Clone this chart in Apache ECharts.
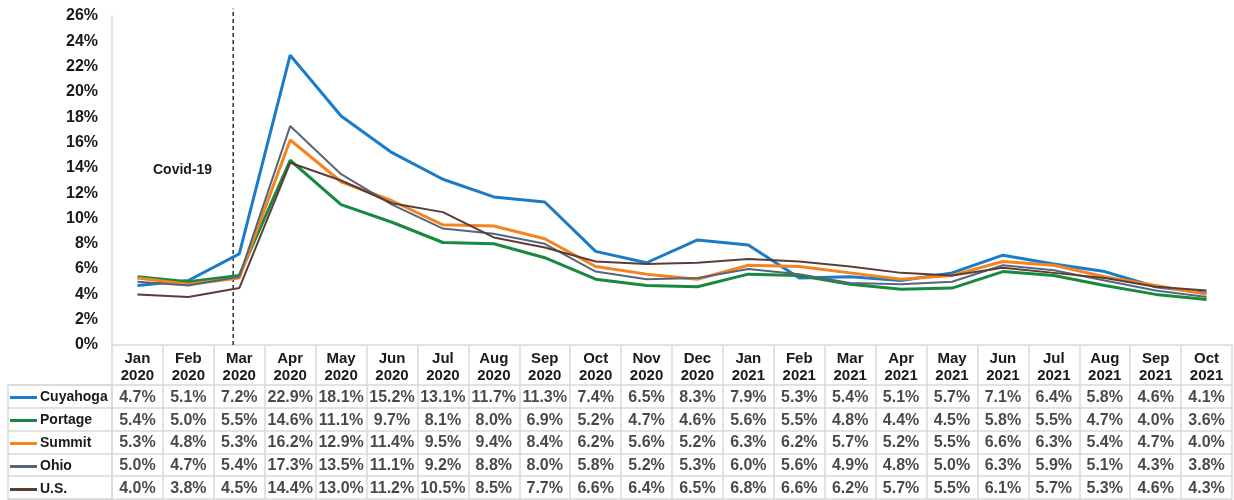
<!DOCTYPE html>
<html>
<head>
<meta charset="utf-8">
<script src="https://cdn.jsdelivr.net/npm/echarts@6/dist/echarts.min.js"></script>
<style>html,body{margin:0;padding:0;background:#fff}#c{width:1234px;height:500px}</style>
</head>
<body>
<div id="c"></div>
<script>
const months = ['Jan\n2020','Feb\n2020','Mar\n2020','Apr\n2020','May\n2020','Jun\n2020','Jul\n2020','Aug\n2020','Sep\n2020','Oct\n2020','Nov\n2020','Dec\n2020','Jan\n2021','Feb\n2021','Mar\n2021','Apr\n2021','May\n2021','Jun\n2021','Jul\n2021','Aug\n2021','Sep\n2021','Oct\n2021'];
const seriesNames = ['Cuyahoga','Portage','Summit','Ohio','U.S.'];
const cuyahoga = [4.7,5.1,7.2,22.9,18.1,15.2,13.1,11.7,11.3,7.4,6.5,8.3,7.9,5.3,5.4,5.1,5.7,7.1,6.4,5.8,4.6,4.1];
const portage  = [5.4,5.0,5.5,14.6,11.1,9.7,8.1,8.0,6.9,5.2,4.7,4.6,5.6,5.5,4.8,4.4,4.5,5.8,5.5,4.7,4.0,3.6];
const summit   = [5.3,4.8,5.3,16.2,12.9,11.4,9.5,9.4,8.4,6.2,5.6,5.2,6.3,6.2,5.7,5.2,5.5,6.6,6.3,5.4,4.7,4.0];
const ohio     = [5.0,4.7,5.4,17.3,13.5,11.1,9.2,8.8,8.0,5.8,5.2,5.3,6.0,5.6,4.9,4.8,5.0,6.3,5.9,5.1,4.3,3.8];
const us       = [4.0,3.8,4.5,14.4,13.0,11.2,10.5,8.5,7.7,6.6,6.4,6.5,6.8,6.6,6.2,5.7,5.5,6.1,5.7,5.3,4.6,4.3];
const annotationText = 'Covid-19';

const allSeries = [cuyahoga, portage, summit, ohio, us];
const colors = ['#1a7bc9','#178a3f','#f5831f','#56667a','#5b3d35'];
const widths = [3,3,3,2,2];
const FONT = 'Liberation Sans';
const border = '#d9d9d9';

const tableData = [];
allSeries.forEach((arr, r) => arr.forEach((v, c) => tableData.push([c, r, v])));

const chart = echarts.init(document.getElementById('c'));
const lineSeries = seriesNames.map((n, i) => ({
  name: n, type: 'line', xAxisIndex: 0, yAxisIndex: 0,
  data: allSeries[i], symbol: 'none', smooth: false,
  lineStyle: { color: colors[i], width: widths[i] },
  itemStyle: { color: colors[i] }
}));

chart.setOption({
  animation: false,
  textStyle: { fontFamily: FONT },
  grid: [
    { left: 112, right: 2, top: 16, bottom: 155 },
    { left: 112, right: 2, top: 345, height: 40 },
    { left: 112, right: 2, top: 385, bottom: 1 },
    { left: 8, width: 104, top: 385, bottom: 1, show: true, borderColor: border, borderWidth: 1.5 }
  ],
  xAxis: [
    { type: 'category', gridIndex: 0, data: months, boundaryGap: true,
      axisLine: { lineStyle: { color: border, width: 1.5 } }, axisTick: { show: false },
      axisLabel: { interval: 0, margin: 5, color: '#1a1a1a', fontSize: 15, fontWeight: 'bold', lineHeight: 17, fontFamily: FONT } },
    { type: 'value', gridIndex: 0, min: -0.5, max: 21.5, show: false },
    { type: 'category', gridIndex: 1, data: months, boundaryGap: true, axisLine: { show: false }, axisTick: { show: false }, axisLabel: { show: false },
      splitLine: { show: true, lineStyle: { color: border, width: 1.5 } } },
    { type: 'category', gridIndex: 2, data: months, boundaryGap: true, axisLine: { show: false }, axisTick: { show: false }, axisLabel: { show: false },
      splitLine: { show: true, lineStyle: { color: border, width: 1.5 } } },
    { type: 'value', gridIndex: 3, show: false }
  ],
  yAxis: [
    { type: 'value', gridIndex: 0, min: 0, max: 26, interval: 2,
      axisLine: { show: true, onZero: false, lineStyle: { color: border, width: 1.5 } }, axisTick: { show: false },
      splitLine: { show: false },
      axisLabel: { margin: 14, formatter: '{value}%', color: '#1a1a1a', fontSize: 16, fontWeight: 'bold', fontFamily: FONT } },
    { type: 'value', gridIndex: 1, show: false },
    { type: 'category', gridIndex: 2, data: seriesNames, inverse: true, boundaryGap: true,
      axisLine: { show: false }, axisTick: { show: false }, axisLabel: { show: false },
      splitLine: { show: true, lineStyle: { color: border, width: 1.5 } } },
    { type: 'category', gridIndex: 3, data: seriesNames, inverse: true, boundaryGap: true,
      axisLine: { show: false }, axisTick: { show: false }, axisLabel: { show: false },
      splitLine: { show: true, lineStyle: { color: border, width: 1.5 } } }
  ],
  legend: {
    data: seriesNames, orient: 'vertical', left: 10, top: 386, height: 130, padding: 0, itemGap: 0,
    icon: 'rect', itemWidth: 27, itemHeight: 3,
    textStyle: { color: '#1a1a1a', fontSize: 14, fontWeight: 'bold', lineHeight: 23, fontFamily: FONT, padding: [0,0,0,-2] },
    selectedMode: false
  },
  graphic: [
    { type: 'text', left: 153, top: 163, style: { text: annotationText, fontSize: 14, fontWeight: 'bold', fill: '#1a1a1a', fontFamily: FONT } }
  ],
  series: [
    ...lineSeries,
    { type: 'line', xAxisIndex: 1, yAxisIndex: 0, data: [[1.88, 0], [1.88, 26.6]], symbol: 'none', clip: false, silent: true,
      lineStyle: { color: '#111', width: 1.3, type: [4, 3] }, z: 1 },
    { type: 'scatter', xAxisIndex: 3, yAxisIndex: 2, data: tableData, symbolSize: 0, silent: true,
      label: { show: true, position: 'inside', offset: [0, 1], formatter: p => p.value[2].toFixed(1) + '%', color: '#1a1a1a', fontSize: 16, fontWeight: 'bold', fontFamily: FONT } }
  ]
});
</script>
</body>
</html>
